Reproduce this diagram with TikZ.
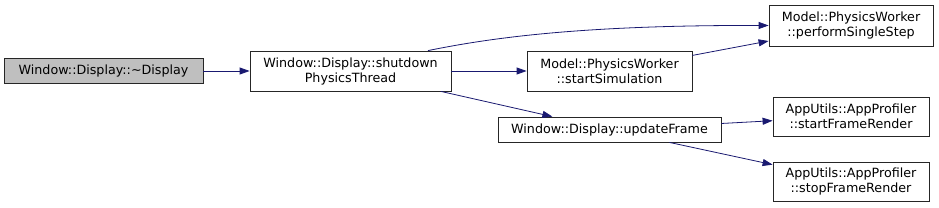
\documentclass[tikz,border=0pt]{standalone}
\usepackage{fontspec}
\setmainfont{DejaVu Sans}
\usetikzlibrary{arrows.meta}
\definecolor{edgeblue}{RGB}{25,25,112}
\definecolor{rootgray}{RGB}{191,191,191}

\begin{document}
\begin{tikzpicture}[
    x=1pt, y=-1pt,
    fnnode/.style={draw=black!85, line width=0.8pt, fill=white, inner sep=0pt,
        align=center, font=\fontsize{12.7}{15}\selectfont},
    rootnode/.style={fnnode, fill=rootgray},
    edge/.style={draw=edgeblue, line width=0.8pt,
        -{Triangle[length=10pt,width=7pt]}},
]
    \useasboundingbox (0,0) rectangle (939,208);

    \node[rootnode, minimum width=199pt, minimum height=25pt] (disp) at (103.5, 71) {Window::Display::\textasciitilde Display};
    \node[fnnode, minimum width=201pt, minimum height=40pt] (shut) at (350.5, 71) {Window::Display::shutdown\\PhysicsThread};
    \node[fnnode, minimum width=165pt, minimum height=40pt] (sim) at (609.5, 71) {Model::PhysicsWorker\\::startSimulation};
    \node[fnnode, minimum width=164pt, minimum height=41pt] (step) at (851, 25.5) {Model::PhysicsWorker\\::performSingleStep};
    \node[fnnode, minimum width=223pt, minimum height=25pt] (upd) at (609.5, 129.5) {Window::Display::updateFrame};
    \node[fnnode, minimum width=156pt, minimum height=39pt] (fstart) at (851, 116.5) {AppUtils::AppProfiler\\::startFrameRender};
    \node[fnnode, minimum width=156pt, minimum height=39pt] (fstop) at (851, 181.5) {AppUtils::AppProfiler\\::stopFrameRender};

    \foreach \a/\b in {disp/shut, shut/sim, sim/step, shut/upd, upd/fstart, upd/fstop} {
        \draw[edge] (\a) -- (\b);
    }

    \draw[edge] ([xshift=77.5pt]shut.north) .. controls (490,38) and (580,25) .. (step.west);

\end{tikzpicture}
\end{document}
